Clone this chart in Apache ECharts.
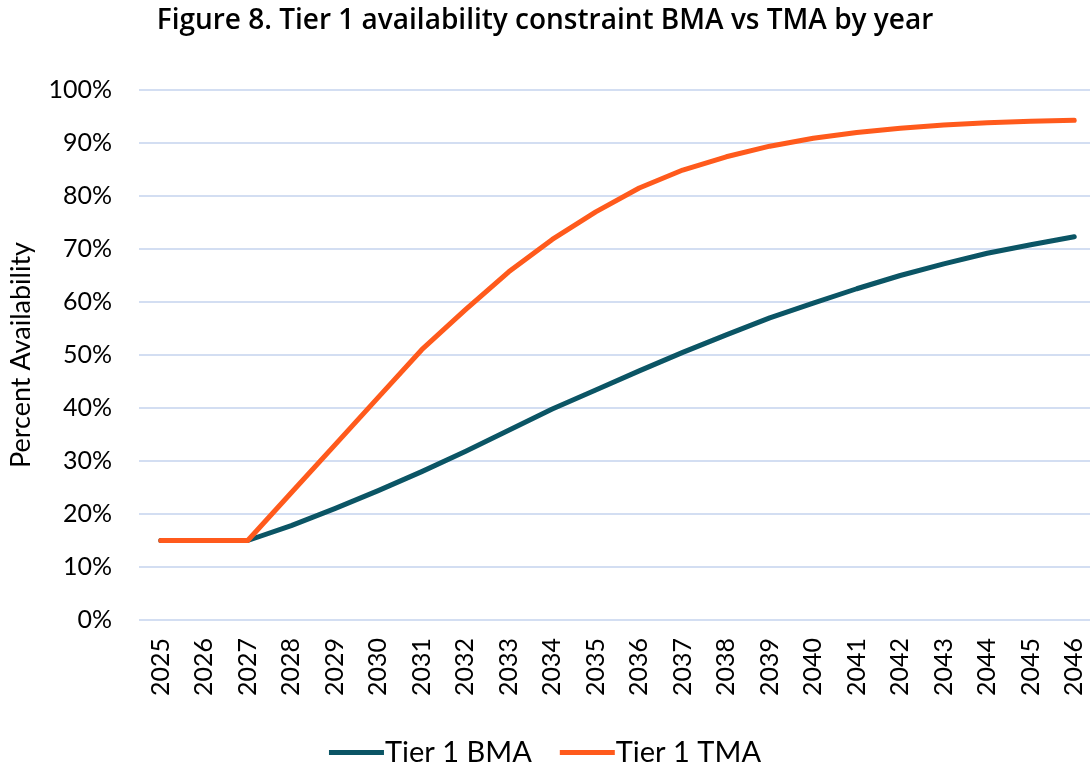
<!DOCTYPE html>
<html>
<head>
<meta charset="utf-8">
<script src="https://cdn.jsdelivr.net/npm/echarts@6/dist/echarts.min.js"></script>
<style>
  html, body { margin: 0; padding: 0; background: #fff; }
  #chart { width: 1090px; height: 767px; }
</style>
</head>
<body>
<div id="chart"></div>
<script>
const years = ['2025', '2026', '2027', '2028', '2029', '2030', '2031', '2032', '2033', '2034', '2035',
  '2036', '2037', '2038', '2039', '2040', '2041', '2042', '2043', '2044', '2045', '2046']
const bma = [15, 15, 15, 17.8, 21, 24.4, 28, 31.8, 35.8, 39.8, 43.4,
  47, 50.5, 53.8, 57, 59.8, 62.5, 65, 67.2, 69.2, 70.8, 72.3]
const tma = [15, 15, 15, 24, 33, 42, 51, 58.5, 65.7, 71.8, 77,
  81.5, 84.9, 87.4, 89.4, 90.9, 92, 92.8, 93.4, 93.8, 94.1, 94.3]

const font = 'Lato, "Open Sans", sans-serif'

const chart = echarts.init(document.getElementById('chart'))
chart.setOption({
  animation: false,
  title: {
    text: 'Figure 8. Tier 1 availability constraint BMA vs TMA by year',
    left: 'center',
    top: 2,
    textStyle: { fontFamily: '"Open Sans", sans-serif', fontSize: 28, fontWeight: 600, color: '#000' }
  },
  legend: {
    bottom: -5,
    left: 'center',
    icon: 'rect',
    itemWidth: 55,
    itemHeight: 5,
    itemGap: 28,
    textStyle: { fontFamily: font, fontSize: 29, color: '#000', padding: [0, 0, 0, -4] },
    data: ['Tier 1 BMA', 'Tier 1 TMA']
  },
  grid: { left: 139, top: 90, width: 957, bottom: 147, outerBoundsMode: 'none' },
  xAxis: {
    type: 'category',
    data: years,
    boundaryGap: true,
    axisLine: { show: false },
    axisTick: { show: false },
    axisLabel: { rotate: 90, interval: 0, margin: 18, fontFamily: font, fontSize: 25, color: '#000' }
  },
  yAxis: {
    type: 'value',
    min: 0,
    max: 100,
    interval: 10,
    name: 'Percent Availability',
    nameLocation: 'middle',
    nameGap: 104,
    nameTextStyle: { fontFamily: font, fontSize: 27, color: '#000' },
    axisLabel: { formatter: '{value}%', margin: 27, fontFamily: font, fontSize: 25, color: '#000' },
    splitLine: { lineStyle: { color: '#D3DEF2', width: 2 } }
  },
  series: [
    {
      name: 'Tier 1 BMA',
      type: 'line',
      data: bma,
      symbol: 'none',
      itemStyle: { color: '#0B5565' },
      lineStyle: { width: 5, cap: 'round', join: 'round' }
    },
    {
      name: 'Tier 1 TMA',
      type: 'line',
      data: tma,
      symbol: 'none',
      itemStyle: { color: '#FF5A1C' },
      lineStyle: { width: 5, cap: 'round', join: 'round' }
    }
  ]
})
</script>
</body>
</html>
